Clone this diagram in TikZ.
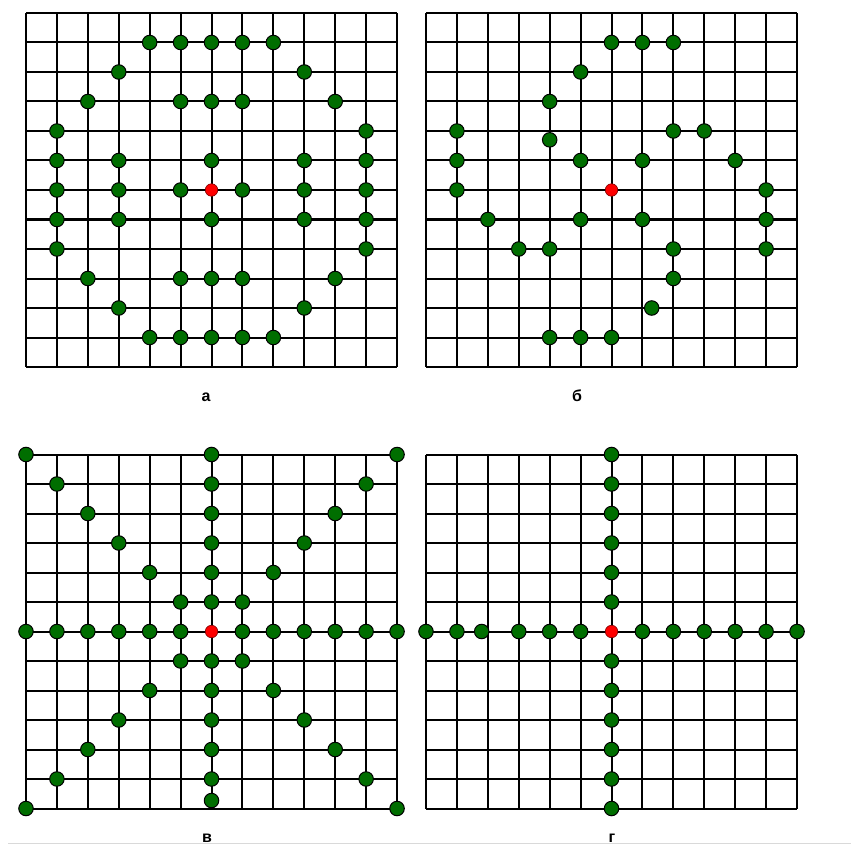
\documentclass[tikz,border=0pt]{standalone}
\usepackage{fontspec}
\setmainfont{Liberation Sans}
\usetikzlibrary{positioning}
\definecolor{dotgreen}{RGB}{0,110,0}
\definecolor{dotred}{RGB}{255,0,0}
\tikzset{
  gridline/.style={line width=2pt, black},
  gdot/.style={circle, draw=black, line width=1pt, fill=dotgreen, minimum size=14.5pt, inner sep=0pt},
  rdot/.style={circle, draw=black!50!red, line width=0.6pt, fill=dotred, minimum size=12.5pt, inner sep=0pt},
  caption/.style={font=\fontsize{16}{18}\selectfont\bfseries, inner sep=0pt},
  panel/.style={x=30.92pt, y=-29.5pt}
}

\begin{document}
\begin{tikzpicture}[x=1pt, y=-1pt]
  \useasboundingbox[fill=white] (0,0) rectangle (851,845);
  \draw[black!15, line width=1pt] (8,843) -- (851,843);

  % panel a: rings
  \begin{scope}[shift={(26,13)}, panel]
    \foreach \k in {0,...,12} {
      \draw[gridline] (\k,0) -- (\k,12);
      \draw[gridline] (0,\k) -- (12,\k);
    }
    \foreach \c/\r [count=\n] in {4/1,5/1,6/1,7/1,8/1, 3/2,9/2, 2/3,5/3,6/3,7/3,10/3,
        1/4,11/4, 1/5,3/5,6/5,9/5,11/5, 1/6,3/6,5/6,7/6,9/6,11/6,
        1/7,3/7,6/7,9/7,11/7, 1/8,11/8, 2/9,5/9,6/9,7/9,10/9,
        3/10,9/10, 4/11,5/11,6/11,7/11,8/11}
      \node[gdot] (a\n) at (\c,\r) {};
    \node[rdot] (a0) at (6,6) {};
  \end{scope}

  % panel b: scattered
  \begin{scope}[shift={(426,13)}, panel]
    \foreach \k in {0,...,12} {
      \draw[gridline] (\k,0) -- (\k,12);
      \draw[gridline] (0,\k) -- (12,\k);
    }
    \foreach \c/\r [count=\n] in {6/1,7/1,8/1, 5/2, 4/3, 1/4,4/4.3,8/4,9/4,
        1/5,5/5,7/5,10/5, 1/6,11/6, 2/7,5/7,7/7,11/7,
        3/8,4/8,8/8,11/8, 8/9, 7.3/10, 4/11,5/11,6/11}
      \node[gdot] (b\n) at (\c,\r) {};
    \node[rdot] (b0) at (6,6) {};
  \end{scope}

  % panel v: star
  \begin{scope}[shift={(26,454.5)}, panel]
    \foreach \k in {0,...,12} {
      \draw[gridline] (\k,0) -- (\k,12);
      \draw[gridline] (0,\k) -- (12,\k);
    }
    \foreach \k [count=\n] in {0,1,2,3,4,5,7,8,9,10,11,12} {
      \node[gdot] (vd\n) at (\k,\k) {};
      \node[gdot] (va\n) at (12-\k,\k) {};
      \node[gdot] (vh\n) at (\k,6) {};
    }
    \foreach \r [count=\n] in {0,1,2,3,4,5,7,8,9,10,11,11.73}
      \node[gdot] (vv\n) at (6,\r) {};
    \node[rdot] (v0) at (6,6) {};
  \end{scope}

  % panel g: cross
  \begin{scope}[shift={(426,454.5)}, panel]
    \foreach \k in {0,...,12} {
      \draw[gridline] (\k,0) -- (\k,12);
      \draw[gridline] (0,\k) -- (12,\k);
    }
    \foreach \c [count=\n] in {0,1,1.8,3,4,5,7,8,9,10,11,12}
      \node[gdot] (gh\n) at (\c,6) {};
    \foreach \r [count=\n] in {0,1,2,3,4,5,7,8,9,10,11,12}
      \node[gdot] (gv\n) at (6,\r) {};
    \node[rdot] (g0) at (6,6) {};
  \end{scope}

  \node[caption] (lbl-a) at (206,397) {а};
  \node[caption] (lbl-b) at (577,396) {б};
  \node[caption] (lbl-v) at (207,838) {в};
  \node[caption] (lbl-g) at (612,838) {г};
\end{tikzpicture}
\end{document}
